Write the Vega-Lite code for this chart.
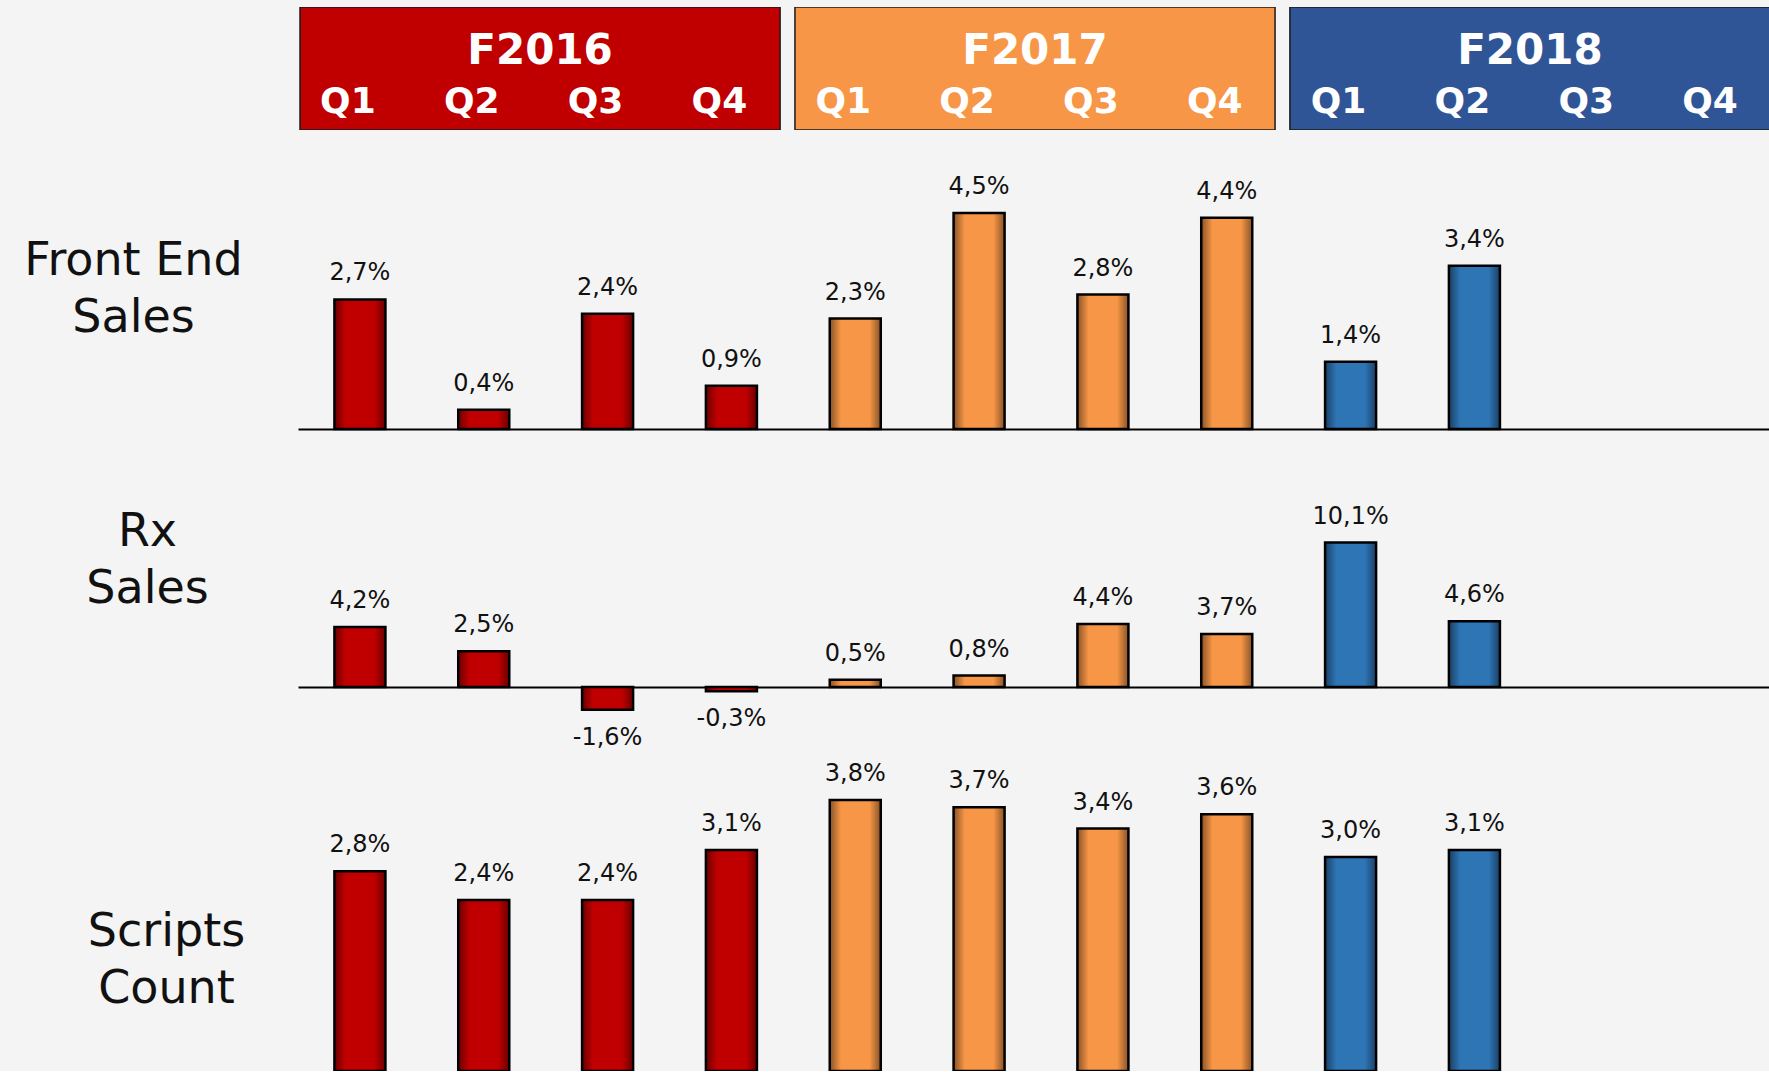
{
  "$schema": "https://vega.github.io/schema/vega-lite/v6.json",
  "background": "#F4F4F4",
  "padding": {"left": 0, "top": 7, "right": 0, "bottom": 0},
  "config": {
    "view": {"stroke": null},
    "locale": {"number": {"decimal": ",", "thousands": ".", "grouping": [3], "currency": ["", " €"], "minus": "-"}},
    "text": {"font": "DejaVu Sans"}
  },
  "datasets": {
    "years": [{"year": "F2016"}, {"year": "F2017"}, {"year": "F2018"}],
    "quarters": [
      {"period": "F2016 Q1", "q": "Q1"}, {"period": "F2016 Q2", "q": "Q2"}, {"period": "F2016 Q3", "q": "Q3"}, {"period": "F2016 Q4", "q": "Q4"},
      {"period": "F2017 Q1", "q": "Q1"}, {"period": "F2017 Q2", "q": "Q2"}, {"period": "F2017 Q3", "q": "Q3"}, {"period": "F2017 Q4", "q": "Q4"},
      {"period": "F2018 Q1", "q": "Q1"}, {"period": "F2018 Q2", "q": "Q2"}, {"period": "F2018 Q3", "q": "Q3"}, {"period": "F2018 Q4", "q": "Q4"}
    ],
    "fe": [
      {"period": "F2016 Q1", "year": "F2016", "v": 0.027}, {"period": "F2016 Q2", "year": "F2016", "v": 0.004},
      {"period": "F2016 Q3", "year": "F2016", "v": 0.024}, {"period": "F2016 Q4", "year": "F2016", "v": 0.009},
      {"period": "F2017 Q1", "year": "F2017", "v": 0.023}, {"period": "F2017 Q2", "year": "F2017", "v": 0.045},
      {"period": "F2017 Q3", "year": "F2017", "v": 0.028}, {"period": "F2017 Q4", "year": "F2017", "v": 0.044},
      {"period": "F2018 Q1", "year": "F2018", "v": 0.014}, {"period": "F2018 Q2", "year": "F2018", "v": 0.034}
    ],
    "rx": [
      {"period": "F2016 Q1", "year": "F2016", "v": 0.042}, {"period": "F2016 Q2", "year": "F2016", "v": 0.025},
      {"period": "F2016 Q3", "year": "F2016", "v": -0.016}, {"period": "F2016 Q4", "year": "F2016", "v": -0.003},
      {"period": "F2017 Q1", "year": "F2017", "v": 0.005}, {"period": "F2017 Q2", "year": "F2017", "v": 0.008},
      {"period": "F2017 Q3", "year": "F2017", "v": 0.044}, {"period": "F2017 Q4", "year": "F2017", "v": 0.037},
      {"period": "F2018 Q1", "year": "F2018", "v": 0.101}, {"period": "F2018 Q2", "year": "F2018", "v": 0.046}
    ],
    "sc": [
      {"period": "F2016 Q1", "year": "F2016", "v": 0.028}, {"period": "F2016 Q2", "year": "F2016", "v": 0.024},
      {"period": "F2016 Q3", "year": "F2016", "v": 0.024}, {"period": "F2016 Q4", "year": "F2016", "v": 0.031},
      {"period": "F2017 Q1", "year": "F2017", "v": 0.038}, {"period": "F2017 Q2", "year": "F2017", "v": 0.037},
      {"period": "F2017 Q3", "year": "F2017", "v": 0.034}, {"period": "F2017 Q4", "year": "F2017", "v": 0.036},
      {"period": "F2018 Q1", "year": "F2018", "v": 0.030}, {"period": "F2018 Q2", "year": "F2018", "v": 0.031}
    ]
  },
  "spacing": 0,
  "bounds": "flush",
  "vconcat": [
    {
      "width": 1471,
      "height": 123,
      "layer": [
        {
          "data": {"name": "years"},
          "mark": {"type": "rect", "stroke": "#1a1a1a", "strokeWidth": 1.5, "clip": true},
          "encoding": {
            "x": {"field": "year", "type": "nominal", "axis": null,
                  "scale": {"type": "band", "domain": ["F2016", "F2017", "F2018"], "range": [2, 1472], "paddingInner": 0.03, "paddingOuter": 0}},
            "color": {"field": "year", "type": "nominal", "legend": null,
                      "scale": {"domain": ["F2016", "F2017", "F2018"], "range": ["#C00000", "#F79646", "#2F5597"]}}
          }
        },
        {
          "data": {"name": "years"},
          "mark": {"type": "text", "dy": -18, "fontSize": 42, "fontWeight": "bold", "color": "#FFFFFF", "font": "DejaVu Sans"},
          "encoding": {
            "x": {"field": "year", "type": "nominal", "axis": null,
                  "scale": {"type": "band", "domain": ["F2016", "F2017", "F2018"], "range": [2, 1472], "paddingInner": 0.03, "paddingOuter": 0}},
            "text": {"field": "year"}
          }
        },
        {
          "data": {"name": "quarters"},
          "mark": {"type": "text", "dx": -12, "dy": 33, "fontSize": 36, "fontWeight": "bold", "color": "#FFFFFF", "font": "DejaVu Sans", "clip": true},
          "encoding": {
            "x": {"field": "period", "type": "nominal", "axis": null,
                  "scale": {"type": "band", "domain": ["F2016 Q1", "F2016 Q2", "F2016 Q3", "F2016 Q4", "F2017 Q1", "F2017 Q2", "F2017 Q3", "F2017 Q4", "F2018 Q1", "F2018 Q2", "F2018 Q3", "F2018 Q4"], "range": [0, 1486], "paddingInner": 0.588, "paddingOuter": 0.294}},
            "text": {"field": "q"}
          }
        }
      ],
      "resolve": {"scale": {"x": "independent", "color": "independent"}}
    },
    {
      "width": 1471,
      "height": 319,
      "data": {"name": "fe"},
      "encoding": {
        "x": {"field": "period", "type": "nominal", "axis": null,
              "scale": {"type": "band", "domain": ["F2016 Q1", "F2016 Q2", "F2016 Q3", "F2016 Q4", "F2017 Q1", "F2017 Q2", "F2017 Q3", "F2017 Q4", "F2018 Q1", "F2018 Q2", "F2018 Q3", "F2018 Q4"], "range": [0, 1486], "paddingInner": 0.588, "paddingOuter": 0.294}},
        "y": {"field": "v", "type": "quantitative", "scale": {"domain": [-0.004167, 0.06229], "nice": false, "zero": false},
              "axis": {"title": ["Front End", "Sales"], "titleX": -165, "titleY": 130, "titleAngle": 0, "titleAlign": "center", "titleBaseline": "middle",
                       "titleFont": "DejaVu Sans", "titleFontSize": 46, "titleFontWeight": "normal", "titleColor": "#111111", "titleLineHeight": 57,
                       "labels": false, "ticks": false, "domain": false, "grid": true, "values": [0], "gridColor": "#000000", "gridWidth": 2.2, "gridOpacity": 1,
                       "minExtent": 298, "maxExtent": 298}}
      },
      "layer": [
        {"mark": {"type": "bar", "stroke": "#000000", "strokeWidth": 2.5},
         "encoding": {"color": {"field": "year", "type": "nominal", "legend": null, "scale": {"domain": ["F2016", "F2017", "F2018"], "range": ["#C00000", "#F79646", "#2E75B6"]}}}},
        {"mark": {"type": "bar", "color": {"gradient": "linear", "x1": 0, "y1": 0, "x2": 1, "y2": 0, "stops": [{"offset": 0, "color": "rgba(0,0,0,0.45)"}, {"offset": 0.22, "color": "rgba(0,0,0,0)"}, {"offset": 0.78, "color": "rgba(0,0,0,0)"}, {"offset": 1, "color": "rgba(0,0,0,0.45)"}]}}},
        {"transform": [{"filter": "datum.v >= 0"}],
         "mark": {"type": "text", "dy": -26, "fontSize": 24, "color": "#111111", "baseline": "middle"},
         "encoding": {"text": {"field": "v", "type": "quantitative", "format": ".1%"}}},
        {"transform": [{"filter": "datum.v < 0"}],
         "mark": {"type": "text", "dy": 28, "fontSize": 24, "color": "#111111", "baseline": "middle"},
         "encoding": {"text": {"field": "v", "type": "quantitative", "format": ".1%"}}}
      ]
    },
    {
      "width": 1471,
      "height": 310,
      "data": {"name": "rx"},
      "encoding": {
        "x": {"field": "period", "type": "nominal", "axis": null,
              "scale": {"type": "band", "domain": ["F2016 Q1", "F2016 Q2", "F2016 Q3", "F2016 Q4", "F2017 Q1", "F2017 Q2", "F2017 Q3", "F2017 Q4", "F2018 Q1", "F2018 Q2", "F2018 Q3", "F2018 Q4"], "range": [0, 1486], "paddingInner": 0.588, "paddingOuter": 0.294}},
        "y": {"field": "v", "type": "quantitative", "scale": {"domain": [-0.05035, 0.1664], "nice": false, "zero": false},
              "axis": {"title": ["Rx", "Sales"], "titleX": -151, "titleY": 82, "titleAngle": 0, "titleAlign": "center", "titleBaseline": "middle",
                       "titleFont": "DejaVu Sans", "titleFontSize": 46, "titleFontWeight": "normal", "titleColor": "#111111", "titleLineHeight": 57,
                       "labels": false, "ticks": false, "domain": false, "grid": true, "values": [0], "gridColor": "#000000", "gridWidth": 2.2, "gridOpacity": 1,
                       "minExtent": 298, "maxExtent": 298}}
      },
      "layer": [
        {"mark": {"type": "bar", "stroke": "#000000", "strokeWidth": 2.5},
         "encoding": {"color": {"field": "year", "type": "nominal", "legend": null, "scale": {"domain": ["F2016", "F2017", "F2018"], "range": ["#C00000", "#F79646", "#2E75B6"]}}}},
        {"mark": {"type": "bar", "color": {"gradient": "linear", "x1": 0, "y1": 0, "x2": 1, "y2": 0, "stops": [{"offset": 0, "color": "rgba(0,0,0,0.45)"}, {"offset": 0.22, "color": "rgba(0,0,0,0)"}, {"offset": 0.78, "color": "rgba(0,0,0,0)"}, {"offset": 1, "color": "rgba(0,0,0,0.45)"}]}}},
        {"transform": [{"filter": "datum.v >= 0"}],
         "mark": {"type": "text", "dy": -26, "fontSize": 24, "color": "#111111", "baseline": "middle"},
         "encoding": {"text": {"field": "v", "type": "quantitative", "format": ".1%"}}},
        {"transform": [{"filter": "datum.v < 0"}],
         "mark": {"type": "text", "dy": 28, "fontSize": 24, "color": "#111111", "baseline": "middle"},
         "encoding": {"text": {"field": "v", "type": "quantitative", "format": ".1%"}}}
      ]
    },
    {
      "width": 1471,
      "height": 312,
      "data": {"name": "sc"},
      "encoding": {
        "x": {"field": "period", "type": "nominal", "axis": null,
              "scale": {"type": "band", "domain": ["F2016 Q1", "F2016 Q2", "F2016 Q3", "F2016 Q4", "F2017 Q1", "F2017 Q2", "F2017 Q3", "F2017 Q4", "F2018 Q1", "F2018 Q2", "F2018 Q3", "F2018 Q4"], "range": [0, 1486], "paddingInner": 0.588, "paddingOuter": 0.294}},
        "y": {"field": "v", "type": "quantitative", "scale": {"domain": [0, 0.04376], "nice": false},
              "axis": {"title": ["Scripts", "Count"], "titleX": -132, "titleY": 172, "titleAngle": 0, "titleAlign": "center", "titleBaseline": "middle",
                       "titleFont": "DejaVu Sans", "titleFontSize": 46, "titleFontWeight": "normal", "titleColor": "#111111", "titleLineHeight": 57,
                       "labels": false, "ticks": false, "domain": false, "grid": false,
                       "minExtent": 298, "maxExtent": 298}}
      },
      "layer": [
        {"mark": {"type": "bar", "stroke": "#000000", "strokeWidth": 2.5, "clip": true},
         "encoding": {"color": {"field": "year", "type": "nominal", "legend": null, "scale": {"domain": ["F2016", "F2017", "F2018"], "range": ["#C00000", "#F79646", "#2E75B6"]}}}},
        {"mark": {"type": "bar", "clip": true, "color": {"gradient": "linear", "x1": 0, "y1": 0, "x2": 1, "y2": 0, "stops": [{"offset": 0, "color": "rgba(0,0,0,0.45)"}, {"offset": 0.22, "color": "rgba(0,0,0,0)"}, {"offset": 0.78, "color": "rgba(0,0,0,0)"}, {"offset": 1, "color": "rgba(0,0,0,0.45)"}]}}},
        {"mark": {"type": "text", "dy": -26, "fontSize": 24, "color": "#111111", "baseline": "middle"},
         "encoding": {"text": {"field": "v", "type": "quantitative", "format": ".1%"}}}
      ]
    }
  ]
}
